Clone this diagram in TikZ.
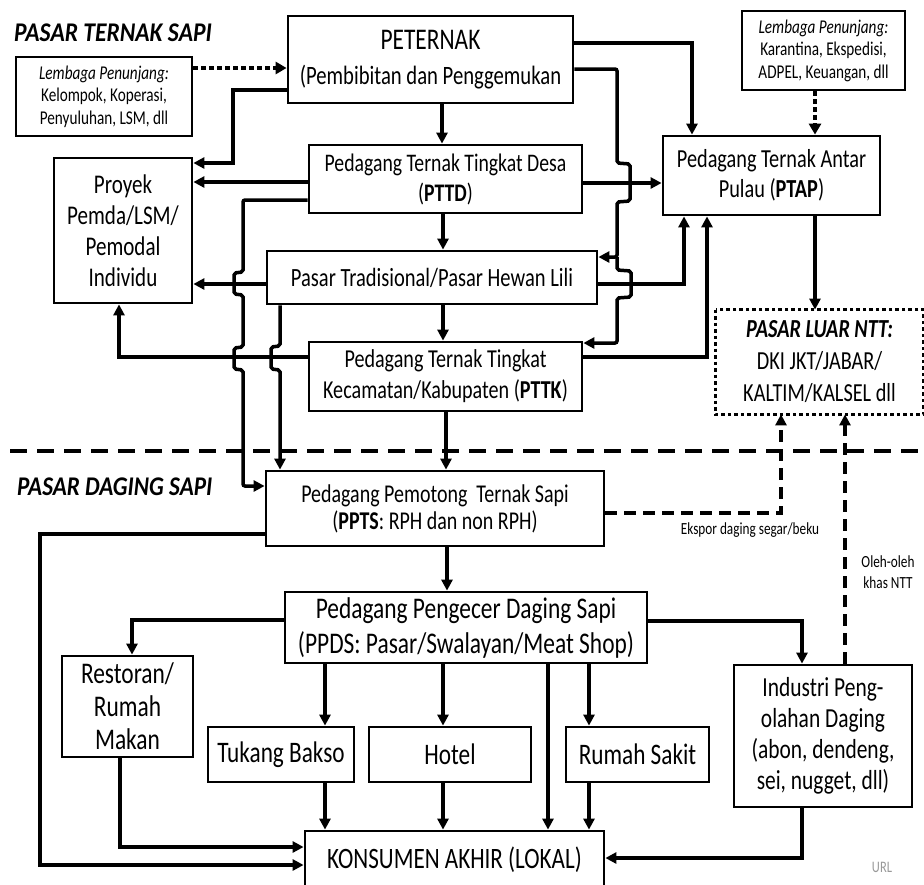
\documentclass[tikz,border=0pt]{standalone}
\usepackage{fontspec}
\usepackage{graphicx}
\setmainfont{Carlito}[FakeStretch=0.78]
\usetikzlibrary{arrows.meta}
\newcommand\myfs[2]{\fontsize{#1}{#2}\selectfont}
\begin{document}
\begin{tikzpicture}[x=1pt,y=-1pt,
  box/.style={draw, line width=2.8pt, inner sep=0pt, align=center, text=black},
  con/.style={line width=3.5pt},
  arr/.style={con, -{Triangle[length=11pt,width=11pt]}},
  dotarr/.style={line width=4.5pt, dash pattern=on 4.5pt off 3.5pt, -{Triangle[length=11pt,width=12pt]}},
  dasharr/.style={line width=3.5pt, dash pattern=on 12pt off 7pt, -{Triangle[length=11pt,width=11pt]}},
  lbl/.style={inner sep=0pt, align=center, font=\myfs{17}{21}}
]
\clip (0,0) rectangle (924,884);
\fill[white] (0,0) rectangle (924,884);

% titles
\node[inner sep=0pt, anchor=west, font=\myfs{27}{26}\bfseries\itshape] (t1) at (14,33) {\scalebox{1.12}[1]{PASAR TERNAK SAPI}};
\node[inner sep=0pt, anchor=west, font=\myfs{27}{26}\bfseries\itshape] (t2) at (17,487) {\scalebox{1.1}[1]{PASAR DAGING SAPI}};

% divider
\draw[line width=3.5pt, dash pattern=on 17pt off 10pt] (10,451) coordinate (d1) -- (924,451) coordinate (d2);

% boxes
\node[box, minimum width=176pt, minimum height=79pt, font=\myfs{19.5}{22.5}] (lemL) at (104,96.5)
  {\textit{Lembaga Penunjang:}\\Kelompok, Koperasi,\\Penyuluhan, LSM, dll};
\node[box, minimum width=285pt, minimum height=87pt, font=\myfs{26.5}{35}] (peternak) at (430.5,59.5)
  {{\fontsize{30}{35}\selectfont PETERNAK}\\(Pembibitan dan Penggemukan};
\node[box, minimum width=163pt, minimum height=79pt, font=\myfs{19.5}{22.5}] (lemR) at (823.5,50.5)
  {\textit{Lembaga Penunjang:}\\Karantina, Ekspedisi,\\ADPEL, Keuangan, dll};
\node[box, minimum width=273pt, minimum height=68pt, font=\myfs{25.3}{30}] (pttd) at (445.5,179)
  {Pedagang Ternak Tingkat Desa\\(\textbf{PTTD})};
\node[box, minimum width=217pt, minimum height=79pt, font=\myfs{26}{30}] (ptap) at (771.5,175.5)
  {Pedagang Ternak Antar\\Pulau (\textbf{PTAP})};
\node[box, minimum width=138pt, minimum height=145pt, font=\myfs{27}{31}] (proyek) at (123,230.5)
  {Proyek\\Pemda/LSM/\\Pemodal\\Individu};
\node[box, minimum width=330pt, minimum height=53pt, font=\myfs{26.3}{30}] (pasar) at (432,277.5)
  {Pasar Tradisional/Pasar Hewan Lili};
\node[box, minimum width=273pt, minimum height=69pt, font=\myfs{25.8}{31}] (pttk) at (445.5,376.5)
  {Pedagang Ternak Tingkat\\Kecamatan/Kabupaten (\textbf{PTTK})};
\node[box, draw=none, minimum width=205pt, minimum height=102pt, font=\myfs{26}{32}] (luar) at (819.5,362)
  {\textbf{\textit{PASAR LUAR NTT:}}\\DKI JKT/JABAR/\\KALTIM/KALSEL dll};
\draw[line width=3pt, dash pattern=on 3.5pt off 3pt] (luar.north west) rectangle (luar.south east);
\node[box, minimum width=338pt, minimum height=75pt, font=\myfs{25.6}{27}] (ppts) at (435,508.5)
  {Pedagang Pemotong\ \ Ternak Sapi\\(\textbf{PPTS}: RPH dan non RPH)};
\node[box, minimum width=362pt, minimum height=71pt, font=\myfs{30}{35}] (ppds) at (466,627.5)
  {Pedagang Pengecer Daging Sapi\\(PPDS: Pasar/Swalayan/Meat Shop)};
\node[box, minimum width=131pt, minimum height=101pt, font=\myfs{30}{33}] (resto) at (127.5,706.5)
  {Restoran/\\Rumah\\Makan};
\node[box, minimum width=146pt, minimum height=55pt, font=\myfs{29.8}{30}] (bakso) at (281,754.5) {Tukang Bakso};
\node[box, minimum width=162pt, minimum height=55pt, font=\myfs{29.8}{30}] (hotel) at (450,754.5) {Hotel};
\node[box, minimum width=143pt, minimum height=55pt, font=\myfs{29.8}{30}] (sakit) at (637.5,754.5) {Rumah Sakit};
\node[box, minimum width=178pt, minimum height=142pt, font=\myfs{27.5}{31}] (industri) at (823,736)
  {Industri Peng-\\olahan Daging\\(abon, dendeng,\\sei, nugget, dll)};
\node[box, minimum width=299pt, minimum height=58pt, font=\myfs{29.6}{30}] (konsumen) at (454.5,860)
  {KONSUMEN AKHIR (LOKAL)};

% labels
\node[lbl] (ekspor) at (750,530) {Ekspor daging segar/beku};
\node[lbl] (oleh) at (888,572) {Oleh-oleh\\khas NTT};
\node[inner sep=0pt, text=black!40, font=\myfs{16}{16}] (url) at (882,867) {URL};

% --- connectors, upper part
\draw[dotarr] (lemL.east |- 0,68) -- (peternak.west |- 0,68);
\draw[arr] (peternak.south -| 442,0) -- (pttd.north -| 442,0);
\draw[arr] (peternak.west |- 0,90) -| (233,163) -- (proyek.east |- 0,163);
\draw[arr] (pttd.west |- 0,182) -- (proyek.east |- 0,182);
\draw[arr, rounded corners=2pt] (pttd.west |- 0,200) -- (243,200) -- (243,272) -- (234,273) -- (234,294) -- (243,295)
  -- (243,347) -- (234,348) -- (234,369) -- (243,370) -- (243,486) -- (ppts.west |- 0,486);
\draw[arr] (pasar.west |- 0,284) -- (proyek.east |- 0,284);
\draw[arr, rounded corners=2pt] (pasar.south -| 280,0) -- (280,346) -- (271,347) -- (271,369) -- (280,370) -- (ppts.north -| 280,0);
\draw[arr] (pttk.west |- 0,357) -| (proyek.south -| 119,0);
\draw[arr] (pttd.south -| 443,0) -- (pasar.north -| 443,0);
\draw[arr] (pasar.south -| 443,0) -- (pttk.north -| 443,0);
\draw[arr] (pttk.south -| 446,0) -- (ppts.north -| 446,0);
\draw[arr] (peternak.east |- 0,43) -| (ptap.north -| 692,0);
\coordinate (br) at (617,257);
\draw[arr, rounded corners=2pt] (peternak.east |- 0,69) -- (617,69) -- (617,163) -- (630,164) -- (630,201) -- (617,202)
  -- (br) -- (pasar.east |- br);
\draw[arr, rounded corners=2pt] (br) -- (617,270) -- (631,271) -- (631,297) -- (617,298) -- (617,343) -- (pttk.east |- 0,343);
\draw[arr] (pttd.east |- 0,183) -- (ptap.west |- 0,183);
\draw[arr] (pasar.east |- 0,284) -| (ptap.south -| 684,0);
\draw[arr] (pttk.east |- 0,357) -| (ptap.south -| 707,0);
\draw[dotarr] (lemR.south -| 815,0) -- (ptap.north -| 815,0);
\draw[arr] (ptap.south -| 815,0) -- (luar.north -| 815,0);

% --- lower part
\draw[dasharr] (ppts.east |- 0,513) -| (luar.south -| 781,0);
\draw[dasharr] (industri.north -| 845,0) -- (luar.south -| 845,0);
\draw[arr] (ppts.south -| 447,0) -- (ppds.north -| 447,0);
\draw[arr] (ppts.west |- 0,534) -| (40,865) -- (konsumen.west |- 0,865);
\draw[arr] (ppds.west |- 0,620) -| (resto.north -| 132,0);
\draw[arr] (resto.south -| 120,0) |- (konsumen.west |- 0,847);
\draw[arr] (ppds.south -| 325,0) -- (bakso.north -| 325,0);
\draw[arr] (bakso.south -| 325,0) -- (konsumen.north -| 325,0);
\draw[arr] (ppds.south -| 443,0) -- (hotel.north -| 443,0);
\draw[arr] (hotel.south -| 443,0) -- (konsumen.north -| 443,0);
\draw[arr] (ppds.south -| 548,0) -- (konsumen.north -| 548,0);
\draw[arr] (ppds.south -| 589,0) -- (sakit.north -| 589,0);
\draw[arr] (sakit.south -| 589,0) -- (konsumen.north -| 589,0);
\draw[arr] (ppds.east |- 0,621) -| (industri.north -| 802,0);
\draw[arr] (industri.south -| 802,0) |- (konsumen.east |- 0,858);
\end{tikzpicture}
\end{document}
